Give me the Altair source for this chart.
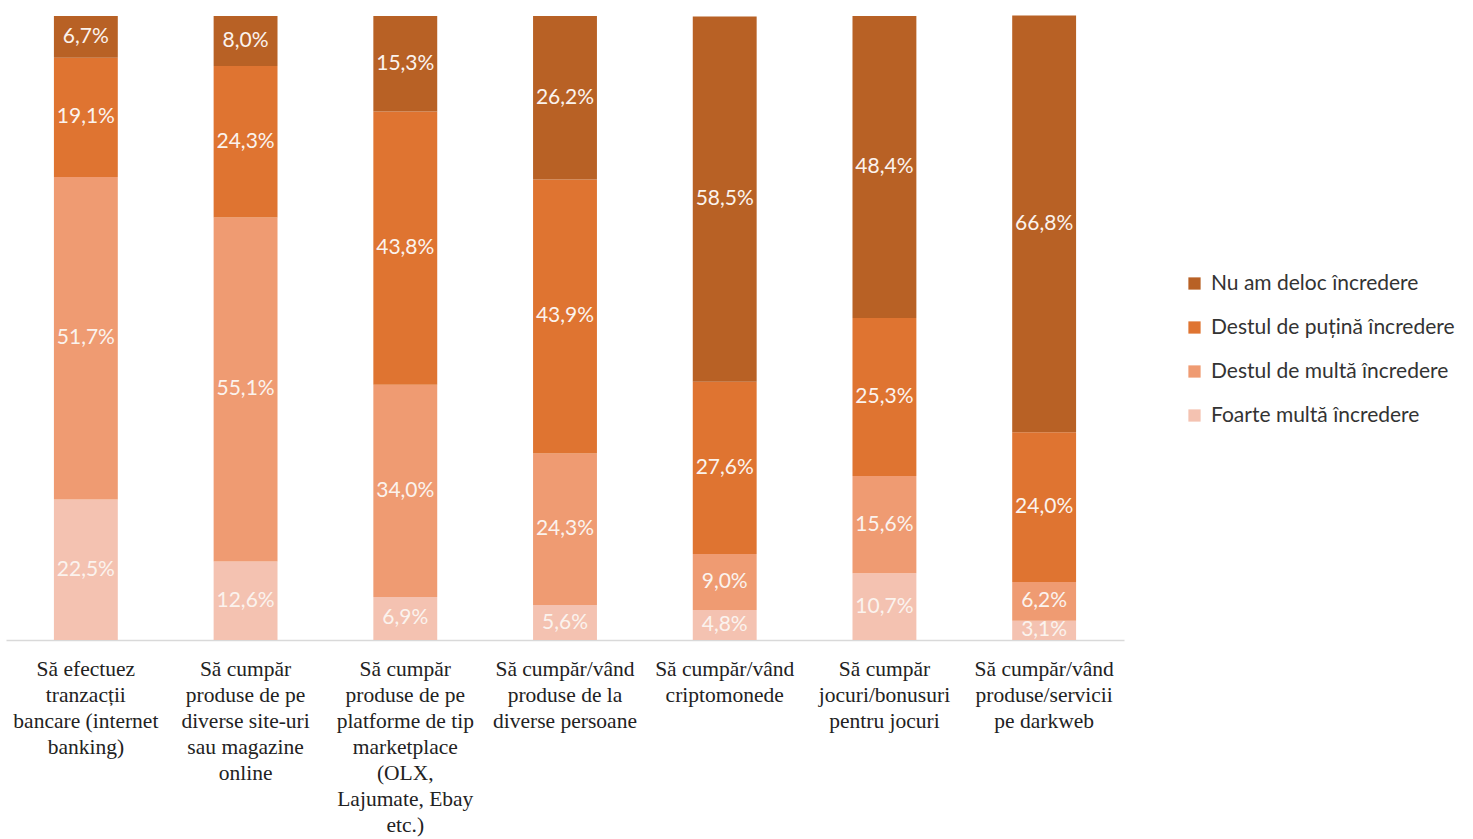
import altair as alt
import pandas as pd

categories = [
    "Să efectuez\ntranzacții\nbancare (internet\nbanking)",
    "Să cumpăr\nproduse de pe\ndiverse site-uri\nsau magazine\nonline",
    "Să cumpăr\nproduse de pe\nplatforme de tip\nmarketplace\n(OLX,\nLajumate, Ebay\netc.)",
    "Să cumpăr/vând\nproduse de la\ndiverse persoane",
    "Să cumpăr/vând\ncriptomonede",
    "Să cumpăr\njocuri/bonusuri\npentru jocuri",
    "Să cumpăr/vând\nproduse/servicii\npe darkweb",
]
series = ["Foarte multă încredere", "Destul de multă încredere",
          "Destul de puțină încredere", "Nu am deloc încredere"]
foarte_multa = [22.5, 12.6, 6.9, 5.6, 4.8, 10.7, 3.1]
destul_multa = [51.7, 55.1, 34.0, 24.3, 9.0, 15.6, 6.2]
destul_putina = [19.1, 24.3, 43.8, 43.9, 27.6, 25.3, 24.0]
nu_deloc = [6.7, 8.0, 15.3, 26.2, 58.5, 48.4, 66.8]
colors = ["#F4C2B1", "#EF9B72", "#DF7431", "#B86125"]

rows = []
for i, c in enumerate(categories):
    for k, (s, vals) in enumerate(zip(series, [foarte_multa, destul_multa, destul_putina, nu_deloc])):
        rows.append({"cat": c, "series": s, "order": k, "value": vals[i]})
df = pd.DataFrame(rows)

base = alt.Chart(df).transform_stack(
    stack="value", groupby=["cat"], as_=["v1", "v2"], sort=[alt.SortField("order")]
).transform_calculate(
    mid="(datum.v1 + datum.v2) / 2",
    lbl="replace(format(datum.value, '.1f'), '.', ',') + '%'",
)

xenc = alt.X("cat:N", sort=categories, title=None,
             scale=alt.Scale(paddingInner=0.6, paddingOuter=0.3),
             axis=alt.Axis(labelExpr="split(datum.value, '\\n')", labelAngle=0,
                           labelFont="Liberation Serif", labelFontSize=21.5,
                           labelColor="#222222", labelLineHeight=26, labelPadding=18,
                           labelBaseline="top",
                           ticks=False, domainColor="#D9D9D9", domainWidth=1.5,
                           grid=False, labelLimit=400))

bars = base.mark_bar().encode(
    x=xenc,
    y=alt.Y("v1:Q", scale=alt.Scale(domain=[0, 100]), axis=None),
    y2="v2:Q",
    color=alt.Color("series:N", scale=alt.Scale(domain=series[::-1], range=colors[::-1]),
                    legend=alt.Legend(title=None, orient="none", legendX=1178, legendY=257,
                                      symbolType="square", symbolSize=150,
                                      symbolStrokeWidth=0,
                                      labelFont="Lato", labelFontSize=21,
                                      labelColor="#333333", rowPadding=22,
                                      labelOffset=6, labelLimit=400)),
)

texts = base.mark_text(font="Lato", fontSize=21, color="#FBF3EE", baseline="middle").encode(
    x=alt.X("cat:N", sort=categories),
    y=alt.Y("mid:Q"),
    text="lbl:N",
)

chart = alt.layer(bars, texts).properties(
    width=1118, height=624, background="white",
    padding={"left": 6, "top": 15, "right": 10, "bottom": 5},
).configure_view(strokeWidth=0, stroke="transparent")

chart.save("out.html", embed_options={"renderer": "svg", "actions": False})
